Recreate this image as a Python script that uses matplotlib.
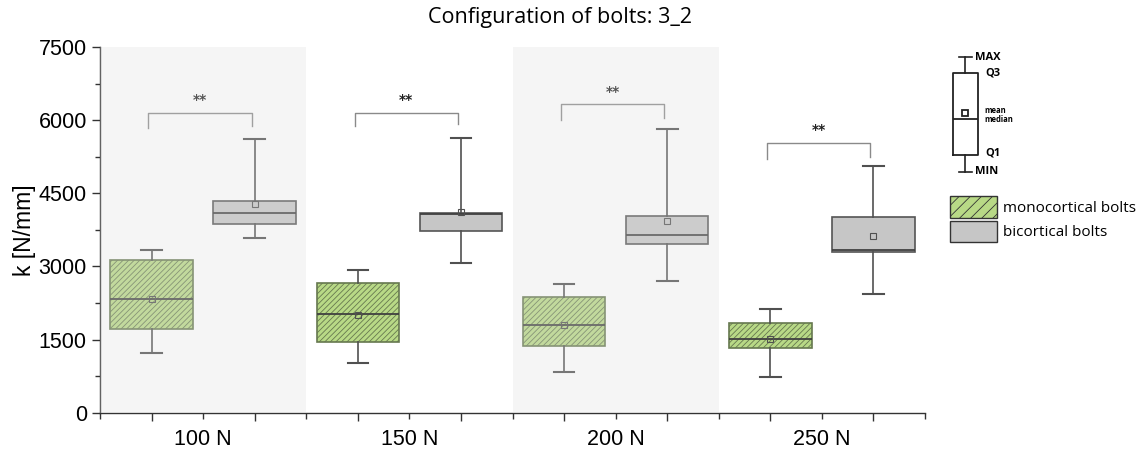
import matplotlib.pyplot as plt
from matplotlib.patches import Patch
from matplotlib.ticker import FixedLocator, FixedFormatter, MultipleLocator

plt.rcParams['hatch.linewidth'] = 0.6

# data: per load, [monocortical, bicortical]
loads = ['100 N', '150 N', '200 N', '250 N']
mins = [1220, 3580, 1010, 3060, 830, 2700, 740, 2440]
q1s = [1710, 3880, 1460, 3730, 1370, 3460, 1330, 3300]
medians = [2340, 4100, 2020, 4080, 1800, 3650, 1510, 3340]
means = [2330, 4290, 2010, 4120, 1800, 3930, 1510, 3630]
q3s = [3130, 4340, 2670, 4100, 2370, 4030, 1830, 4020]
maxs = [3340, 5610, 2930, 5630, 2640, 5820, 2130, 5050]
# significance brackets: bar height, leg bottom, star height
bracket_top = [6150, 6150, 6330, 5540]
bracket_leg = [5840, 5880, 6000, 5210]
stars_y = [6410, 6410, 6580, 5800]
stars = ['**', '**', '**', '**']

# schematic key box (arbitrary units)
key_stats = dict(whislo=-172, q1=-155, med=-119, mean=-113, q3=-73, whishi=-57)

green = '#b8d986'
grey = '#c6c6c6'

fig = plt.figure(figsize=(11.42, 4.55), dpi=100)
ax = fig.add_axes([100 / 1142, 1 - 412.7 / 455, 825 / 1142, 365.7 / 455])

stats = []
for i in range(8):
    stats.append(dict(whislo=mins[i], q1=q1s[i], med=medians[i], mean=means[i],
                      q3=q3s[i], whishi=maxs[i]))
positions = list(range(1, 9))
bp = ax.bxp(stats, positions=positions, widths=0.8, patch_artist=True, showmeans=True,
            showfliers=False, capwidths=0.2,
            boxprops=dict(linewidth=1.2),
            medianprops=dict(color='#404040', linewidth=1.3),
            whiskerprops=dict(color='#505050', linewidth=1.2),
            capprops=dict(color='#505050', linewidth=1.5),
            meanprops=dict(marker='s', markerfacecolor='none', markeredgecolor='#505050',
                           markersize=4, markeredgewidth=0.8))
for i, b in enumerate(bp['boxes']):
    if i % 2 == 0:
        b.set_facecolor(green)
        b.set_edgecolor('#66784f')
        b.set_hatch('//////')
    else:
        b.set_facecolor(grey)
        b.set_edgecolor('#555555')

# brackets
for g in range(4):
    x1, x2 = 2 * g + 0.97, 2 * g + 1.97
    ax.plot([x1, x1, x2, x2], [bracket_leg[g], bracket_top[g], bracket_top[g], bracket_leg[g] + 40],
            color='#8a8a8a', lw=1.0)
    ax.text((x1 + x2) / 2, stars_y[g], stars[g], ha='center', va='center', fontsize=10,
            color='#222222', fontweight='bold')

# washed-out bands over the first and third groups
for g in [0, 2]:
    ax.axvspan(2 * g + 0.5, 2 * g + 2.5, color='#dcdcdc', alpha=0.28, lw=0, zorder=10)

ax.set_xlim(0.5, 8.5)
ax.set_ylim(0, 7500)
ax.set_yticks([0, 1500, 3000, 4500, 6000, 7500])
ax.yaxis.set_minor_locator(MultipleLocator(750))
ax.xaxis.set_major_locator(FixedLocator(positions))
ax.xaxis.set_major_formatter(FixedFormatter([''] * 8))
minor_pos = [0.5 + k for k in range(9)]
minor_lab = ['', loads[0], '', loads[1], '', loads[2], '', loads[3], '']
ax.xaxis.set_minor_locator(FixedLocator(minor_pos))
ax.xaxis.set_minor_formatter(FixedFormatter(minor_lab))

for s in ['top', 'right']:
    ax.spines[s].set_visible(False)
for s in ['left', 'bottom']:
    ax.spines[s].set_color('#333333')
    ax.spines[s].set_linewidth(1.0)
ax.tick_params(which='major', length=6, width=1, color='#333333',
               labelsize=15.5, labelfontfamily='Liberation Sans')
ax.tick_params(which='minor', length=3.5, width=1, color='#333333',
               labelsize=15.5, labelfontfamily='Liberation Sans')
ax.tick_params(axis='x', which='minor', length=4, pad=8)
ax.set_ylabel('k [N/mm]', fontsize=16.5, family='Liberation Sans', labelpad=2)

fig.text(560 / 1142, 1 - 17 / 455, 'Configuration of bolts: 3_2', ha='center', va='center',
         fontsize=15.5, family='Open Sans')

# key box
kax = fig.add_axes([940 / 1142, 1 - 180 / 455, 60 / 1142, 130 / 455])
kax.bxp([key_stats], positions=[25], widths=25, capwidths=13, showmeans=True,
        showfliers=False,
        boxprops=dict(color='#222222', linewidth=1.3),
        medianprops=dict(color='#222222', linewidth=1.3),
        whiskerprops=dict(color='#222222', linewidth=1.2),
        capprops=dict(color='#222222', linewidth=1.2),
        meanprops=dict(marker='s', markerfacecolor='none', markeredgecolor='#222222',
                       markersize=5, markeredgewidth=1.3))
kax.set_xlim(0, 60)
kax.set_ylim(-180, -50)
kax.axis('off')
key_font = dict(family='Open Sans', fontweight='bold', va='center', clip_on=False)
kax.text(35, key_stats['whishi'], 'MAX', fontsize=8, **key_font)
kax.text(45, key_stats['q3'], 'Q3', fontsize=8, **key_font)
kax.text(45, key_stats['q1'] + 2, 'Q1', fontsize=8, **key_font)
kax.text(35, key_stats['whislo'], 'MIN', fontsize=8, **key_font)
kax.text(44, key_stats['mean'] + 2, 'mean', fontsize=5.5, **key_font)
kax.text(44, key_stats['med'] - 1, 'median', fontsize=5.5, **key_font)

handles = [Patch(facecolor=green, edgecolor='#333333', hatch='///', label='monocortical bolts'),
           Patch(facecolor=grey, edgecolor='#333333', label='bicortical bolts')]
fig.legend(handles=handles, loc='upper left', bbox_to_anchor=(950 / 1142, 1 - 196 / 455),
           frameon=False, prop=dict(family='Open Sans', size=11), handlelength=3.1,
           handleheight=1.8, labelspacing=0.2, handletextpad=0.4, borderaxespad=0,
           borderpad=0)

fig.savefig('out.png', dpi=100)
